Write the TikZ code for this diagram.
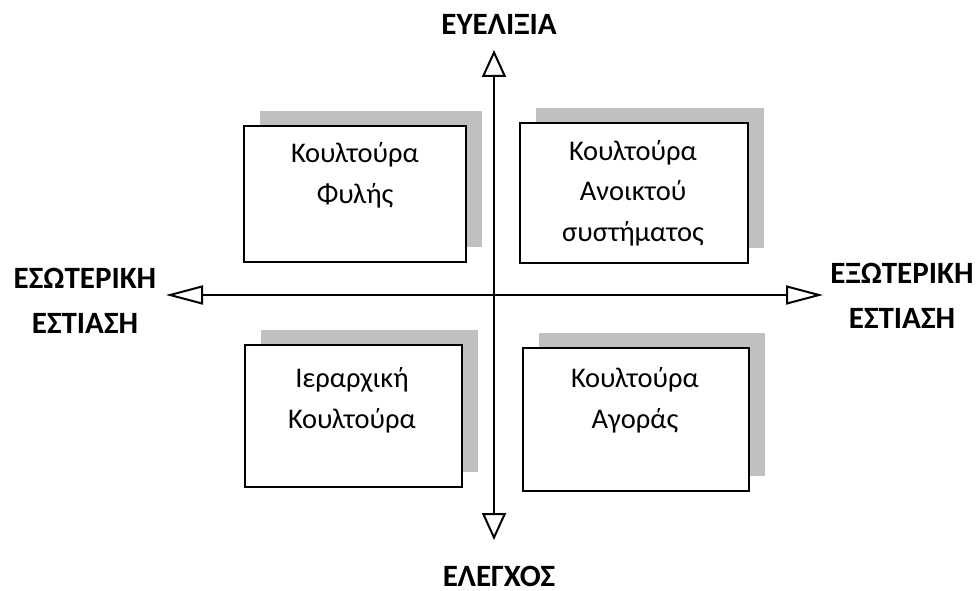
\documentclass[tikz,border=0pt]{standalone}
\usepackage{fontspec}
\setmainfont{Carlito}
\usetikzlibrary{arrows.meta,shadows}

\definecolor{shadowgray}{RGB}{192,192,192}

\tikzset{
    culture/.style={draw, line width=2pt, fill=white, inner sep=0pt, anchor=north west,
        general shadow={fill=shadowgray, shadow xshift=16pt, shadow yshift=15pt}},
    culturetext/.style={align=center, inner sep=0pt, anchor=base,
        font=\fontsize{28.5}{40.5}\selectfont},
    axislabel/.style={align=center, inner sep=0pt, anchor=base,
        font=\fontsize{31}{45}\selectfont\bfseries},
    vaxis/.style={line width=2pt, {Triangle[open,length=27pt,width=24pt]}-{Triangle[open,length=27pt,width=24pt]}},
    haxis/.style={line width=2pt, {Triangle[open,length=37pt,width=19pt]}-{Triangle[open,length=37pt,width=19pt]}}
}

\begin{document}
\begin{tikzpicture}[x=1pt,y=-1pt]
    \useasboundingbox (0,0) rectangle (979,591);

    % the four cultures
    \node[culture, minimum width=222pt, minimum height=136pt] (clan) at (243,125) {};
    \node[culture, minimum width=228pt, minimum height=140pt] (adhocracy) at (519,122) {};
    \node[culture, minimum width=217pt, minimum height=142pt] (hierarchy) at (244,344) {};
    \node[culture, minimum width=226pt, minimum height=143pt] (market) at (522,347) {};

    % multi-line text sits on its last baseline
    \node[culturetext] (clantext) at (355,203) {Κουλτούρα\\Φυλής};
    \node[culturetext] (adhocracytext) at (633,241) {Κουλτούρα\\Ανοικτού\\συστήματος};
    \node[culturetext] (hierarchytext) at (352,428) {Ιεραρχική\\Κουλτούρα};
    \node[culturetext] (markettext) at (635,428) {Κουλτούρα\\Αγοράς};

    % axes
    \coordinate (up) at (494,50);
    \coordinate (down) at (494,540);
    \coordinate (left) at (166,295);
    \coordinate (right) at (823,295);
    \draw[vaxis] (down) -- (up);
    \draw[haxis] (left) -- (right);

    \node[axislabel] (flexibility) at (499,35) {ΕΥΕΛΙΞΙΑ};
    \node[axislabel] (control) at (499,586) {ΕΛΕΓΧΟΣ};
    \node[axislabel] (internal) at (85,333) {ΕΣΩΤΕΡΙΚΗ\\ΕΣΤΙΑΣΗ};
    \node[axislabel] (external) at (902,328) {ΕΞΩΤΕΡΙΚΗ\\ΕΣΤΙΑΣΗ};
\end{tikzpicture}
\end{document}
